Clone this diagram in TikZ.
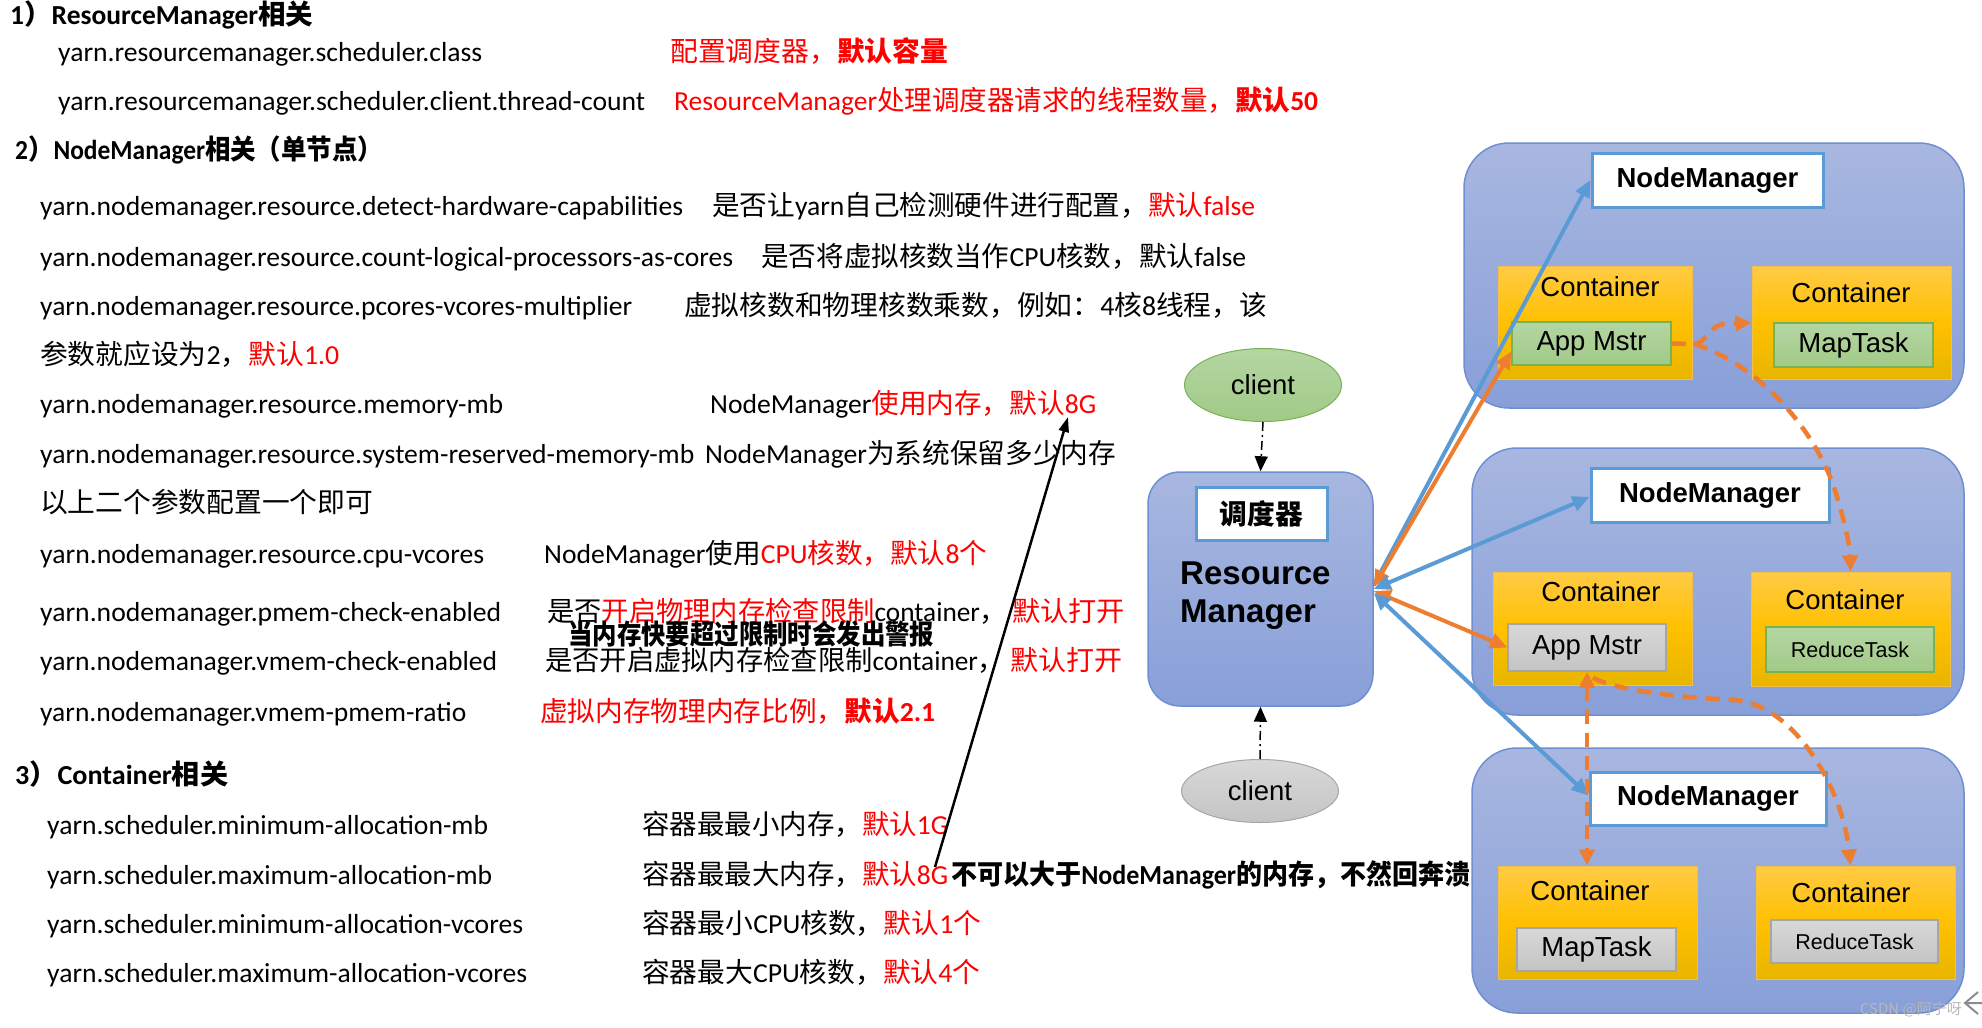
\documentclass[tikz,border=0pt]{standalone}
\usepackage{fontspec}
\usepackage{graphicx}
\setmainfont{Carlito}
\newfontfamily\cjkf{Noto Sans CJK SC}
\newfontfamily\arialf{Liberation Sans}
\usetikzlibrary{arrows.meta,shapes.geometric,calc}
\newcommand\cj[1]{{\cjkf #1}}
\newcommand\fw[2]{\resizebox{#1pt}{\height}{#2}}
\definecolor{grpT}{HTML}{A8B7E0}
\definecolor{grpB}{HTML}{889FD8}
\definecolor{grpD}{HTML}{6F8FD2}
\definecolor{ctT}{HTML}{FFCB45}
\definecolor{ctM}{HTML}{FFC000}
\definecolor{ctB}{HTML}{E8B500}
\definecolor{ctD}{HTML}{F2C04A}
\definecolor{gnT}{HTML}{B4D6A2}
\definecolor{gnB}{HTML}{A1CA88}
\definecolor{gnD}{HTML}{77B255}
\definecolor{gyT}{HTML}{D8D8D8}
\definecolor{gyB}{HTML}{C4C4C4}
\definecolor{gyD}{HTML}{A6A6A6}
\definecolor{bl}{HTML}{5B9BD5}
\definecolor{org}{HTML}{ED7D31}
\definecolor{rd}{HTML}{FF0000}
\begin{document}
\begin{tikzpicture}[x=1pt,y=-1pt,
  txt/.style={anchor=base west, inner sep=0pt, font=\fontsize{27.5}{30}\selectfont},
  grp/.style={draw=grpD, line width=1.5pt, rounded corners=45pt, top color=grpT, bottom color=grpB, inner sep=0pt},
  nmbox/.style={draw=bl, line width=3pt, fill=white, inner sep=0pt, font=\arialf\bfseries\fontsize{27.5}{30}\selectfont},
  cont/.style={draw=ctD, line width=1pt, top color=ctT, bottom color=ctB, middle color=ctM, inner sep=0pt},
  gin/.style={draw=gnD, line width=1.5pt, top color=gnT, bottom color=gnB, inner sep=0pt, font=\arialf\fontsize{27.5}{30}\selectfont},
  yin/.style={draw=gyD, line width=1.5pt, top color=gyT, bottom color=gyB, inner sep=0pt, font=\arialf\fontsize{27.5}{30}\selectfont},
  clab/.style={inner sep=0pt, font=\arialf\fontsize{27.5}{30}\selectfont},
  dd/.style={line width=1.5pt, dash pattern=on 9pt off 4pt on 2pt off 4pt, -{Triangle[length=15pt,width=13pt]}},
  sl/.style={line width=4pt, -{Triangle[length=17pt,width=15pt]}},
  sll/.style={line width=4pt, {Triangle[length=17pt,width=15pt]}-{Triangle[length=17pt,width=15pt]}},
  od/.style={org, line width=4.5pt, dash pattern=on 14pt off 9pt, -{Triangle[length=16pt,width=15pt]}}
]
\fill[white] (0,0) rectangle (1982,1028);
\path[use as bounding box] (0,0) rectangle (1982,1028);

% ---------------- left text ----------------
\node[txt] (h1) at (10,24) {\bfseries\fw{303}{1\cj{）}ResourceManager\cj{相关}}};
\node[txt] (k1) at (58,61) {\fw{424}{yarn.resourcemanager.scheduler.class}};
\node[txt,text=rd] (d1) at (670,61) {\fw{278}{\cj{配置调度器，}\textbf{\cj{默认容量}}}};
\node[txt] (k2) at (58,110) {\fw{587}{yarn.resourcemanager.scheduler.client.thread-count}};
\node[txt,text=rd] (d2) at (674,110) {\fw{644}{ResourceManager\cj{处理调度器请求的线程数量，}\textbf{\cj{默认}50}}};
\node[txt] (h2) at (15,159) {\bfseries\fw{368}{2\cj{）}NodeManager\cj{相关（单节点）}}};
\node[txt] (k3) at (40,215) {\fw{643}{yarn.nodemanager.resource.detect-hardware-capabilities}};
\node[txt] (d3) at (712,215) {\fw{543}{\cj{是否让}yarn\cj{自己检测硬件进行配置，}\textcolor{rd}{\cj{默认}false}}};
\node[txt] (k4) at (40,266) {\fw{693}{yarn.nodemanager.resource.count-logical-processors-as-cores}};
\node[txt] (d4) at (761,266) {\fw{485}{\cj{是否将虚拟核数当作}CPU\cj{核数，默认}false}};
\node[txt] (k5) at (40,315) {\fw{592}{yarn.nodemanager.resource.pcores-vcores-multiplier}};
\node[txt] (d5) at (684,315) {\fw{583}{\cj{虚拟核数和物理核数乘数，例如：}4\cj{核}8\cj{线程，该}}};
\node[txt] (k6) at (40,364) {\fw{299}{\cj{参数就应设为}2\cj{，}\textcolor{rd}{\cj{默认}1.0}}};
\node[txt] (k7) at (40,413) {\fw{463}{yarn.nodemanager.resource.memory-mb}};
\node[txt] (d7) at (710,413) {\fw{386}{NodeManager\textcolor{rd}{\cj{使用内存，默认}8G}}};
\node[txt] (k8) at (40,463) {\fw{654}{yarn.nodemanager.resource.system-reserved-memory-mb}};
\node[txt] (d8) at (705,463) {\fw{411}{NodeManager\cj{为系统保留多少内存}}};
\node[txt] (k9) at (40,512) {\fw{333}{\cj{以上二个参数配置一个即可}}};
\node[txt] (k10) at (40,563) {\fw{444}{yarn.nodemanager.resource.cpu-vcores}};
\node[txt] (d10) at (544,563) {\fw{443}{NodeManager\cj{使用}\textcolor{rd}{CPU\cj{核数，默认}8\cj{个}}}};
\node[txt] (k11) at (40,621) {\fw{461}{yarn.nodemanager.pmem-check-enabled}};
\node[txt] (d11) at (547,621) {\fw{460}{\cj{是否}\textcolor{rd}{\cj{开启物理内存检查限制}}container\cj{，}}};
\node[txt,text=rd] (e11) at (1012,621) {\fw{113}{\cj{默认打开}}};
\node[txt] (w11) at (568,644) {\bfseries\fw{366}{\cj{当内存快要超过限制时会发出警报}}};
\node[txt] (k12) at (40,670) {\fw{457}{yarn.nodemanager.vmem-check-enabled}};
\node[txt] (d12) at (545,670) {\fw{460}{\cj{是否开启虚拟内存检查限制}container\cj{，}}};
\node[txt,text=rd] (e12) at (1010,670) {\fw{112}{\cj{默认打开}}};
\node[txt] (k13) at (40,721) {\fw{426}{yarn.nodemanager.vmem-pmem-ratio}};
\node[txt,text=rd] (d13) at (540,721) {\fw{395}{\cj{虚拟内存物理内存比例，}\textbf{\cj{默认}2.1}}};
\node[txt] (h3) at (15,784) {\bfseries\fw{213}{3\cj{）}Container\cj{相关}}};
\node[txt] (k14) at (47,834) {\fw{441}{yarn.scheduler.minimum-allocation-mb}};
\node[txt] (d14) at (642,834) {\fw{306}{\cj{容器最最小内存，}\textcolor{rd}{\cj{默认}1G}}};
\node[txt] (k15) at (47,884) {\fw{445}{yarn.scheduler.maximum-allocation-mb}};
\node[txt] (d15) at (642,884) {\fw{306}{\cj{容器最最大内存，}\textcolor{rd}{\cj{默认}8G}}};
\node[txt] (n15) at (951,884) {\bfseries\fw{519}{\cj{不可以大于}NodeManager\cj{的内存，不然回奔溃}}};
\node[txt] (k16) at (47,933) {\fw{476}{yarn.scheduler.minimum-allocation-vcores}};
\node[txt] (d16) at (642,933) {\fw{339}{\cj{容器最小}CPU\cj{核数，}\textcolor{rd}{\cj{默认}1\cj{个}}}};
\node[txt] (k17) at (47,982) {\fw{480}{yarn.scheduler.maximum-allocation-vcores}};
\node[txt] (d17) at (642,982) {\fw{338}{\cj{容器最大}CPU\cj{核数，}\textcolor{rd}{\cj{默认}4\cj{个}}}};

\coordinate (bs) at (935,867);
\coordinate (bt) at (1068,417);
\draw[line width=2.5pt, -{Triangle[length=15pt,width=10pt]}] (bs) -- (bt);

% ---------------- ResourceManager ----------------
\node[ellipse, draw=gnD, line width=1pt, top color=gnT, bottom color=gnB, minimum width=157pt, minimum height=73pt, inner sep=0pt, font=\arialf\fontsize{27.5}{30}\selectfont] (cl1) at (1263,385) {client};
\node[ellipse, draw=gyD, line width=1pt, top color=gyT, bottom color=gyB, minimum width=157pt, minimum height=63pt, inner sep=0pt, font=\arialf\fontsize{27.5}{30}\selectfont] (cl2) at (1260,791) {client};
\node[draw=grpD, line width=1.5pt, rounded corners=32pt, top color=grpT, bottom color=grpB, minimum width=225pt, minimum height=234pt, inner sep=0pt] (rm) at (1260.5,589) {};
\node[draw=bl, line width=3pt, fill=white, minimum width=131pt, minimum height=53pt, inner sep=0pt, font=\cjkf\bfseries\fontsize{27.7}{30}\selectfont] (sch) at (1261.5,513.5) {调度器};
\node[anchor=base west, inner sep=0pt, font=\arialf\bfseries\fontsize{33}{36}\selectfont] (rmt1) at (1180,584) {Resource};
\node[anchor=base west, inner sep=0pt, font=\arialf\bfseries\fontsize{33}{36}\selectfont] (rmt2) at (1180,622) {Manager};
\draw[dd] (cl1.south) -- (rm.north);
\draw[dd] (cl2.north) -- (rm.south);

% ---------------- NodeManager groups ----------------
\node[grp, minimum width=500pt, minimum height=265pt] (g1) at (1714,275.5) {};
\node[grp, minimum width=492pt, minimum height=267pt] (g2) at (1718,581.5) {};
\node[grp, minimum width=492pt, minimum height=265pt] (g3) at (1718,880.5) {};

\node[nmbox, minimum width=231pt, minimum height=54pt] (nm1) at (1707.5,180) {NodeManager};
\node[nmbox, minimum width=238pt, minimum height=54pt] (nm2) at (1710,495) {NodeManager};
\node[nmbox, minimum width=236pt, minimum height=53pt] (nm3) at (1708,798.5) {NodeManager};

\node[cont, minimum width=194pt, minimum height=113pt] (c1l) at (1595,322.5) {};
\node[cont, minimum width=199pt, minimum height=113pt] (c1r) at (1851.5,322.5) {};
\node[cont, minimum width=199pt, minimum height=113pt] (c2l) at (1592.5,628.5) {};
\node[cont, minimum width=199pt, minimum height=114pt] (c2r) at (1850.5,629) {};
\node[cont, minimum width=199pt, minimum height=113pt] (c3l) at (1597.5,922.5) {};
\node[cont, minimum width=199pt, minimum height=113pt] (c3r) at (1855.5,922.5) {};

\node[clab] (t1l) at (1600,287) {Container};
\node[clab] (t1r) at (1851,293) {Container};
\node[clab] (t2l) at (1601,592) {Container};
\node[clab] (t2r) at (1845,600) {Container};
\node[clab] (t3l) at (1590,891) {Container};
\node[clab] (t3r) at (1851,893) {Container};

\node[gin, minimum width=159pt, minimum height=43pt] (a1) at (1591.5,343.5) {App Mstr};
\node[gin, minimum width=159pt, minimum height=44pt] (mt1) at (1853.5,345) {MapTask};
\node[yin, minimum width=158pt, minimum height=47pt] (a2) at (1587,647.5) {App Mstr};
\node[gin, minimum width=168pt, minimum height=45pt, font=\arialf\fontsize{21.5}{24}\selectfont] (rt2) at (1850,649.5) {ReduceTask};
\node[yin, minimum width=159pt, minimum height=43pt] (mt3) at (1596.5,949.5) {MapTask};
\node[yin, minimum width=167pt, minimum height=43pt, font=\arialf\fontsize{21.5}{24}\selectfont] (rt3) at (1854.5,941.5) {ReduceTask};

% ---------------- connectors ----------------
\draw[sl, bl] ($(rm.east)+(0,-4)$) -- (nm1.west);
\draw[sll, org] ($(rm.east)+(0,-2)$) -- ($(a1.west)+(0,8)$);
\draw[sll, bl] (rm.east) -- ($(nm2.west)+(0,2)$);
\draw[sll, org] ($(rm.east)+(0,2)$) -- (a2.west);
\draw[sll, bl] ($(rm.east)+(0,4)$) -- ($(nm3.west)+(0,-3)$);

\coordinate (fork1) at (1694,344);
\draw[od] (a1.east) -- (fork1) .. controls (1706,344) and (1708,326) .. (1724,324) -- (c1r.west);
\draw[od] (fork1) .. controls (1760,365) and (1815,430) .. (1835,490) .. controls (1844,520) and (1850,545) .. (c2r.north);
\draw[od, {Triangle[length=16pt,width=15pt]}-{Triangle[length=16pt,width=15pt]}] (a2.south) -- (a2.south |- c3l.north);
\draw[od] ($(a2.south)+(6,6)$) .. controls (1620,692) and (1690,698) .. (1735,700) .. controls (1795,705) and (1843,790) .. ($(c3r.north)+(-5,0)$);

% ---------------- watermark ----------------
\node[anchor=east, inner sep=0pt, text=black!28, font=\cjkf\fontsize{15}{16}\selectfont] (wm) at (1962,1009) {CSDN @阿宁呀};
\draw[black!45, line width=2pt] (1982,1003) -- (1965,1003) (1978,992) -- (1965,1003) -- (1978,1014);
\end{tikzpicture}
\end{document}
